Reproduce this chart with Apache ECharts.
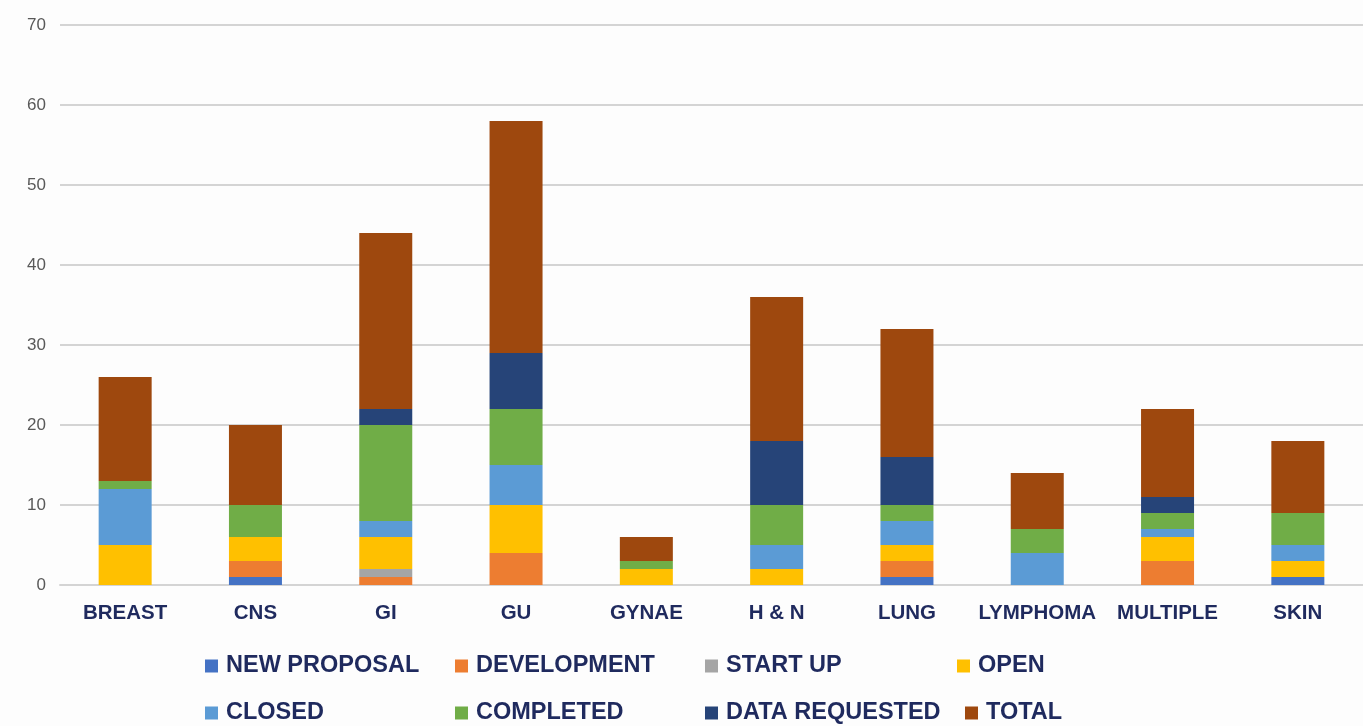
<!DOCTYPE html>
<html>
<head>
<meta charset="utf-8">
<style>
  html, body { margin: 0; padding: 0; background: #fdfdfd; }
  #chart { width: 1363px; height: 726px; }
</style>
<script src="https://cdn.jsdelivr.net/npm/echarts@6/dist/echarts.min.js"></script>
</head>
<body>
<div id="chart"></div>
<script>
// Tumour groups along the x axis
const categories = ['BREAST', 'CNS', 'GI', 'GU', 'GYNAE', 'H & N', 'LUNG', 'LYMPHOMA', 'MULTIPLE', 'SKIN'];

// Study counts per status, one value per tumour group
const newProposal   = [0, 1, 0, 0, 0, 0, 1, 0, 0, 1];
const development   = [0, 2, 1, 4, 0, 0, 2, 0, 3, 0];
const startUp       = [0, 0, 1, 0, 0, 0, 0, 0, 0, 0];
const open          = [5, 3, 4, 6, 2, 2, 2, 0, 3, 2];
const closed        = [7, 0, 2, 5, 0, 3, 3, 4, 1, 2];
const completed     = [1, 4, 12, 7, 1, 5, 2, 3, 2, 4];
const dataRequested = [0, 0, 2, 7, 0, 8, 6, 0, 2, 0];
const total         = [13, 10, 22, 29, 3, 18, 16, 7, 11, 9];

const yTicks = [0, 10, 20, 30, 40, 50, 60, 70];

const seriesNames = ['NEW PROPOSAL', 'DEVELOPMENT', 'START UP', 'OPEN', 'CLOSED', 'COMPLETED', 'DATA REQUESTED', 'TOTAL'];
const seriesData  = [newProposal, development, startUp, open, closed, completed, dataRequested, total];
const colors = ['#4472C4', '#ED7D31', '#A5A5A5', '#FFC000', '#5B9BD5', '#70AD47', '#264478', '#9E480E'];

const navy = '#1F2A5E';
const labelFont = "'Liberation Sans', Arial, sans-serif";

// Legend laid out as a 4 x 2 grid, one legend component per entry
const legendPos = [
  [205, 653], [455, 653], [705, 653], [957, 653],
  [205, 700], [455, 700], [705, 700], [965, 700]
];
const legends = seriesNames.map((name, i) => ({
  data: [name],
  left: legendPos[i][0],
  top: legendPos[i][1],
  orient: 'horizontal',
  icon: 'rect',
  itemWidth: 13,
  itemHeight: 13,
  itemGap: 0,
  padding: 0,
  selectedMode: false,
  textStyle: {
    color: navy,
    fontFamily: labelFont,
    fontWeight: 'bold',
    fontSize: 23.5,
    lineHeight: 26,
    padding: [0, 0, 0, 3]
  }
}));

const chart = echarts.init(document.getElementById('chart'), null, { renderer: 'canvas' });

chart.setOption({
  backgroundColor: '#fdfdfd',
  animation: false,
  color: colors,
  legend: legends,
  grid: { left: 60, top: 25, width: 1309, height: 560, containLabel: false },
  xAxis: {
    type: 'category',
    data: categories,
    axisLine: { show: true, lineStyle: { color: '#d4d4d4', width: 2 } },
    axisTick: { show: false },
    axisLabel: {
      interval: 0,
      color: navy,
      fontFamily: labelFont,
      fontWeight: 'bold',
      fontSize: 20.5,
      margin: 18
    }
  },
  yAxis: {
    type: 'value',
    min: yTicks[0],
    max: yTicks[yTicks.length - 1],
    interval: 10,
    axisLine: { show: false },
    axisTick: { show: false },
    splitLine: { lineStyle: { color: '#d4d4d4', width: 2 } },
    axisLabel: {
      color: '#595959',
      fontFamily: labelFont,
      fontSize: 17,
      margin: 14
    }
  },
  series: seriesNames.map((name, i) => ({
    name,
    type: 'bar',
    stack: 'status',
    barWidth: 53,
    data: seriesData[i],
    itemStyle: { color: colors[i] }
  }))
});
</script>
</body>
</html>
